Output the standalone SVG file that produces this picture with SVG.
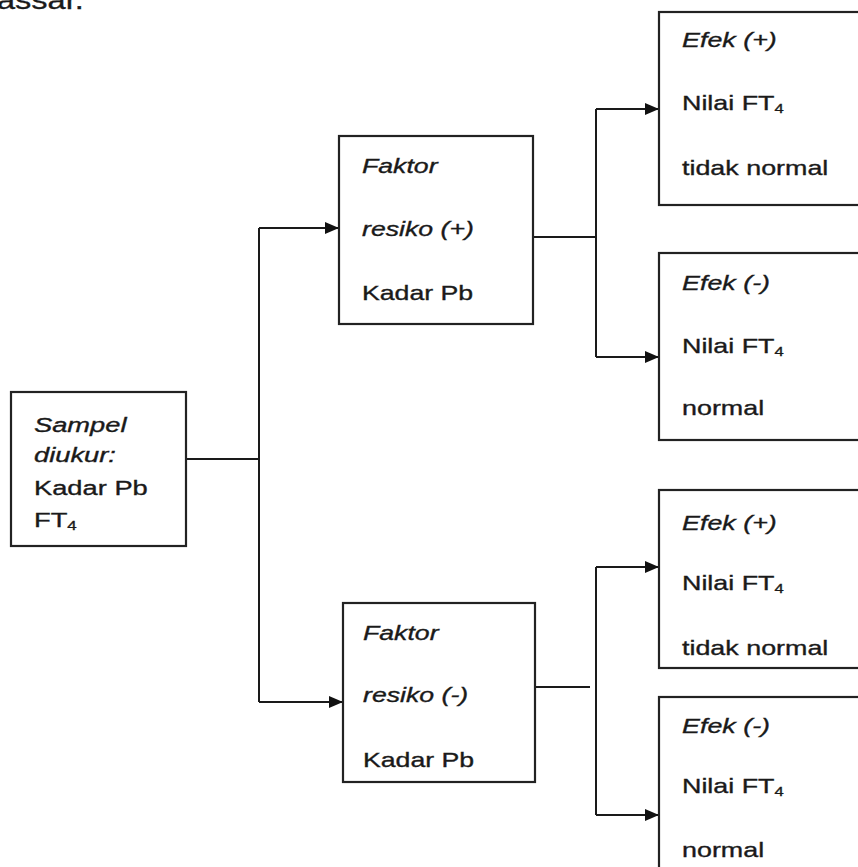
<svg xmlns="http://www.w3.org/2000/svg" width="858" height="867" viewBox="0 0 858 867">
<defs>
<marker id="arr" viewBox="0 0 14 12" refX="14" refY="6" markerWidth="14" markerHeight="12" markerUnits="userSpaceOnUse" orient="auto">
<path d="M0,0 L14,6 L0,12 Z" fill="#111"/>
</marker>
</defs>
<style>
.box{fill:#fff;stroke:#222;stroke-width:2.2}
.t{font-family:"Liberation Sans",Arial,sans-serif;font-size:21px;fill:#1a1a1a;stroke:#1a1a1a;stroke-width:0.35}
.i{font-style:italic}
.sub{font-size:13px}
.c{fill:none;stroke:#1a1a1a;stroke-width:2}
</style>
<rect width="858" height="867" fill="#fff"/>
<text class="t" x="-3" y="9" style="font-size:26px" transform="translate(-3,0) scale(1.25,1) translate(3,0)">assar.</text>
<g id="connectors">
<path class="c" d="M186,459 H259"/>
<path class="c" d="M259,228 V702"/>
<path class="c" d="M259,228 H339" marker-end="url(#arr)"/>
<path class="c" d="M259,702 H343" marker-end="url(#arr)"/>
<path class="c" d="M533,237 H596"/>
<path class="c" d="M596,109 V357"/>
<path class="c" d="M596,109 H659" marker-end="url(#arr)"/>
<path class="c" d="M596,357 H659" marker-end="url(#arr)"/>
<path class="c" d="M535,687 H590"/>
<path class="c" d="M596,567 V815"/>
<path class="c" d="M596,567 H659" marker-end="url(#arr)"/>
<path class="c" d="M596,815 H659" marker-end="url(#arr)"/>
</g>
<g id="sampel">
<rect class="box" x="11" y="392" width="175" height="154"/>
<g transform="translate(34,0) scale(1.3,1) translate(-34,0)">
<text class="t i" x="34" y="432">Sampel</text>
<text class="t i" x="34" y="462">diukur:</text>
<text class="t" x="34" y="495">Kadar Pb</text>
<text class="t" x="34" y="527">FT<tspan class="sub" dy="3">4</tspan></text>
</g>
</g>
<g id="faktor-plus">
<rect class="box" x="339" y="136" width="194" height="188"/>
<g transform="translate(362,0) scale(1.27,1) translate(-362,0)">
<text class="t i" x="362" y="173">Faktor</text>
<text class="t i" x="362" y="236">resiko (+)</text>
<text class="t" x="362" y="300">Kadar Pb</text>
</g>
</g>
<g id="faktor-minus">
<rect class="box" x="343" y="603" width="192" height="179"/>
<g transform="translate(363,0) scale(1.27,1) translate(-363,0)">
<text class="t i" x="363" y="640">Faktor</text>
<text class="t i" x="363" y="702">resiko (-)</text>
<text class="t" x="363" y="767">Kadar Pb</text>
</g>
</g>
<g id="efek1">
<rect class="box" x="659" y="12" width="210" height="193"/>
<g transform="translate(682,0) scale(1.28,1) translate(-682,0)">
<text class="t i" x="682" y="47">Efek (+)</text>
<text class="t" x="682" y="110">Nilai FT<tspan class="sub" dy="3">4</tspan></text>
<text class="t" x="682" y="175">tidak normal</text>
</g>
</g>
<g id="efek2">
<rect class="box" x="659" y="253" width="210" height="187"/>
<g transform="translate(682,0) scale(1.28,1) translate(-682,0)">
<text class="t i" x="682" y="290">Efek (-)</text>
<text class="t" x="682" y="353">Nilai FT<tspan class="sub" dy="3">4</tspan></text>
<text class="t" x="682" y="415">normal</text>
</g>
</g>
<g id="efek3">
<rect class="box" x="659" y="490" width="210" height="178"/>
<g transform="translate(682,0) scale(1.28,1) translate(-682,0)">
<text class="t i" x="682" y="530">Efek (+)</text>
<text class="t" x="682" y="590">Nilai FT<tspan class="sub" dy="3">4</tspan></text>
<text class="t" x="682" y="655">tidak normal</text>
</g>
</g>
<g id="efek4">
<rect class="box" x="659" y="697" width="210" height="190"/>
<g transform="translate(682,0) scale(1.28,1) translate(-682,0)">
<text class="t i" x="682" y="733">Efek (-)</text>
<text class="t" x="682" y="793">Nilai FT<tspan class="sub" dy="3">4</tspan></text>
<text class="t" x="682" y="857">normal</text>
</g>
</g>
</svg>
